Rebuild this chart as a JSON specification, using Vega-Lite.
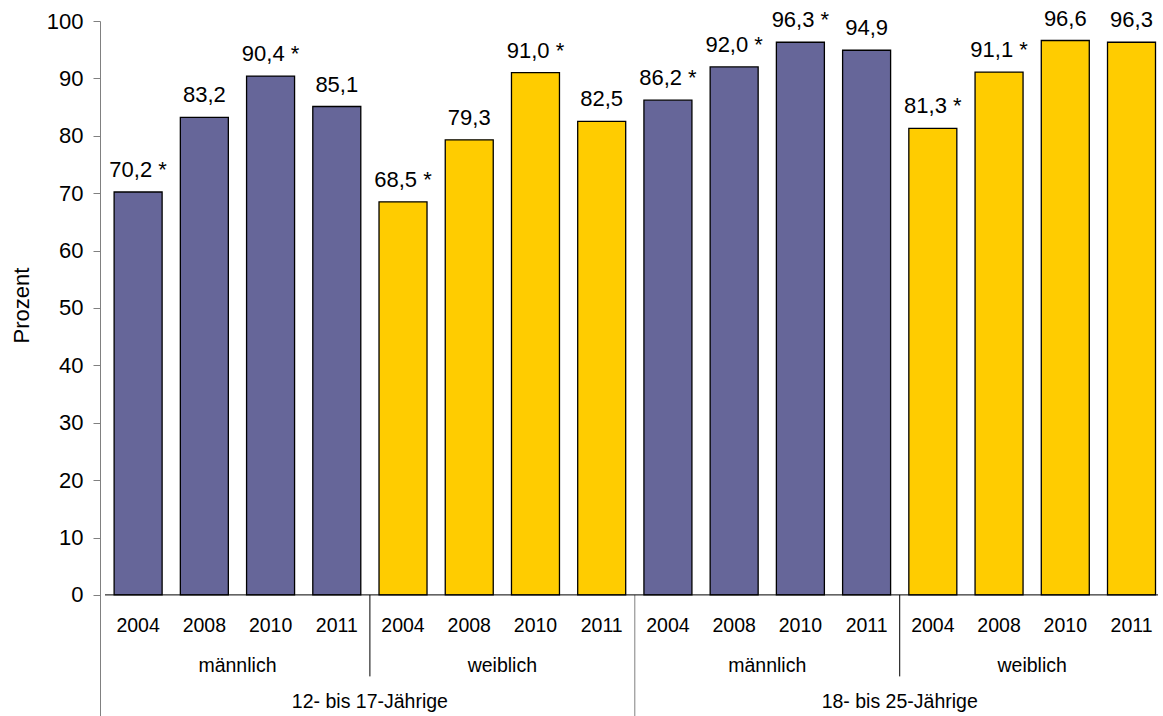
{
  "$schema": "https://vega.github.io/schema/vega-lite/v6.json",
  "width": 1063,
  "height": 695,
  "autosize": {"type": "none"},
  "padding": {"left": 100, "top": 21, "right": 0, "bottom": 0},
  "background": "white",
  "config": {
    "view": {"stroke": null},
    "font": "Liberation Sans",
    "text": {"font": "Liberation Sans", "fontSize": 19.5, "color": "black"}
  },
  "datasets": {
    "bars": [
      {"age": "12- bis 17-Jährige", "gender": "männlich", "year": "2004", "c": 0.5, "value": 70.2, "label": "70,2 *"},
      {"age": "12- bis 17-Jährige", "gender": "männlich", "year": "2008", "c": 1.5, "value": 83.2, "label": "83,2"},
      {"age": "12- bis 17-Jährige", "gender": "männlich", "year": "2010", "c": 2.5, "value": 90.4, "label": "90,4 *"},
      {"age": "12- bis 17-Jährige", "gender": "männlich", "year": "2011", "c": 3.5, "value": 85.1, "label": "85,1"},
      {"age": "12- bis 17-Jährige", "gender": "weiblich", "year": "2004", "c": 4.5, "value": 68.5, "label": "68,5 *"},
      {"age": "12- bis 17-Jährige", "gender": "weiblich", "year": "2008", "c": 5.5, "value": 79.3, "label": "79,3"},
      {"age": "12- bis 17-Jährige", "gender": "weiblich", "year": "2010", "c": 6.5, "value": 91.0, "label": "91,0 *"},
      {"age": "12- bis 17-Jährige", "gender": "weiblich", "year": "2011", "c": 7.5, "value": 82.5, "label": "82,5"},
      {"age": "18- bis 25-Jährige", "gender": "männlich", "year": "2004", "c": 8.5, "value": 86.2, "label": "86,2 *"},
      {"age": "18- bis 25-Jährige", "gender": "männlich", "year": "2008", "c": 9.5, "value": 92.0, "label": "92,0 *"},
      {"age": "18- bis 25-Jährige", "gender": "männlich", "year": "2010", "c": 10.5, "value": 96.3, "label": "96,3 *"},
      {"age": "18- bis 25-Jährige", "gender": "männlich", "year": "2011", "c": 11.5, "value": 94.9, "label": "94,9"},
      {"age": "18- bis 25-Jährige", "gender": "weiblich", "year": "2004", "c": 12.5, "value": 81.3, "label": "81,3 *"},
      {"age": "18- bis 25-Jährige", "gender": "weiblich", "year": "2008", "c": 13.5, "value": 91.1, "label": "91,1 *"},
      {"age": "18- bis 25-Jährige", "gender": "weiblich", "year": "2010", "c": 14.5, "value": 96.6, "label": "96,6"},
      {"age": "18- bis 25-Jährige", "gender": "weiblich", "year": "2011", "c": 15.5, "value": 96.3, "label": "96,3"}
    ],
    "genders": [
      {"label": "männlich", "c": 2},
      {"label": "weiblich", "c": 6},
      {"label": "männlich", "c": 10},
      {"label": "weiblich", "c": 14}
    ],
    "ages": [
      {"label": "12- bis 17-Jährige", "c": 4},
      {"label": "18- bis 25-Jährige", "c": 12}
    ],
    "genderSeps": [{"c": 4}, {"c": 12}],
    "ageSeps": [{"c": 8}]
  },
  "encoding": {
    "x": {"field": "c", "type": "quantitative", "scale": {"domain": [0, 15.9], "nice": false, "zero": false}, "axis": null}
  },
  "layer": [
    {
      "data": {"name": "bars"},
      "mark": {"type": "bar", "width": 48, "stroke": "black", "strokeWidth": 1.3},
      "encoding": {
        "y": {
          "field": "value", "type": "quantitative",
          "scale": {"domain": [-21.1, 100], "nice": false, "zero": false},
          "axis": {
            "values": [0, 10, 20, 30, 40, 50, 60, 70, 80, 90, 100],
            "title": "Prozent",
            "titleFont": "Liberation Sans", "titleFontSize": 22, "titleFontWeight": "normal", "titleColor": "black",
            "titleAngle": -90, "titleX": -72, "titleY": 284, "titleAlign": "center", "titleBaseline": "alphabetic",
            "labelFont": "Liberation Sans", "labelFontSize": 22, "labelColor": "black", "labelPadding": 10,
            "tickSize": 7, "tickColor": "#808080", "domainColor": "#808080", "grid": false
          }
        },
        "y2": {"datum": 0},
        "color": {"field": "gender", "type": "nominal", "scale": {"domain": ["männlich", "weiblich"], "range": ["#666699", "#FFCC00"]}, "legend": null}
      }
    },
    {
      "data": {"name": "bars"},
      "mark": {"type": "text", "baseline": "alphabetic", "align": "center", "dy": -15, "fontSize": 22},
      "encoding": {
        "y": {"field": "value", "type": "quantitative"},
        "text": {"field": "label"}
      }
    },
    {
      "data": {"name": "bars"},
      "mark": {"type": "text", "baseline": "alphabetic", "align": "center"},
      "encoding": {
        "y": {"datum": -6.5},
        "text": {"field": "year"}
      }
    },
    {
      "data": {"name": "genders"},
      "mark": {"type": "text", "baseline": "alphabetic", "align": "center"},
      "encoding": {
        "y": {"datum": -13.4},
        "text": {"field": "label"}
      }
    },
    {
      "data": {"name": "ages"},
      "mark": {"type": "text", "baseline": "alphabetic", "align": "center"},
      "encoding": {
        "y": {"datum": -19.7},
        "text": {"field": "label"}
      }
    },
    {
      "data": {"name": "genderSeps"},
      "mark": {"type": "rule", "color": "black", "strokeWidth": 1},
      "encoding": {
        "y": {"datum": 0},
        "y2": {"datum": -14.2}
      }
    },
    {
      "data": {"name": "ageSeps"},
      "mark": {"type": "rule", "color": "#808080", "strokeWidth": 1},
      "encoding": {
        "y": {"datum": 0},
        "y2": {"datum": -21.1}
      }
    },
    {
      "data": {"values": [{"a": 0, "b": 15.9}]},
      "mark": {"type": "rule", "color": "black", "strokeWidth": 1},
      "encoding": {
        "x": {"field": "a", "type": "quantitative"},
        "x2": {"field": "b"},
        "y": {"datum": 0}
      }
    }
  ]
}
